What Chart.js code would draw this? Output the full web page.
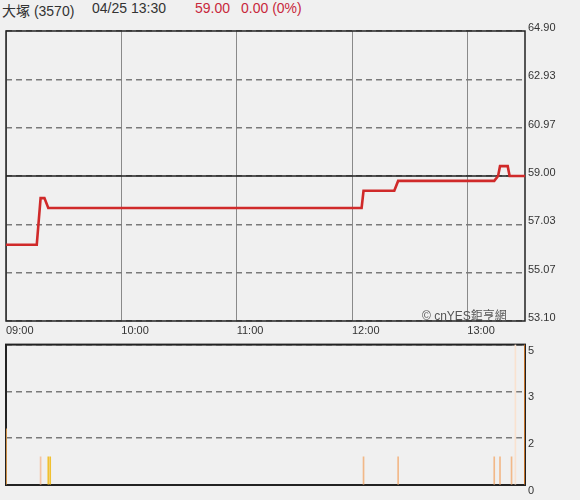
<!DOCTYPE html>
<html>
<head>
<meta charset="utf-8">
<script src="https://cdn.jsdelivr.net/npm/chart.js@4/dist/chart.umd.min.js"></script>
<style>
  body { margin: 0; background: #f0f0f0; width: 580px; height: 500px; overflow: hidden;
         font-family: "Liberation Sans", "Noto Sans CJK TC", sans-serif; }
  .hd { position: absolute; top: 0px; font-size: 14px; color: #333; white-space: pre; }
  .red { color: #c8283c; }
  #mark { position: absolute; left: 422px; top: 306px; font-size: 12px; color: #555; }
  canvas { position: absolute; left: 0; }
</style>
</head>
<body>
<div class="hd" style="left:2px">大塚 (3570)</div>
<div class="hd" style="left:92px">04/25 13:30</div>
<div class="hd red" style="left:195px">59.00</div>
<div class="hd red" style="left:241px">0.00 (0%)</div>
<canvas id="price" width="580" height="320" style="top:20px"></canvas>
<canvas id="vol" width="580" height="165" style="top:335px"></canvas>
<div id="mark">© cnYES鉅亨網</div>
<script>
document.addEventListener("DOMContentLoaded", function () {

    // 價格 (分時)
    const priceTimes = ["09:00","09:16","09:18","09:20","09:22","12:05","12:06","12:22","12:24",
                        "13:14","13:16","13:17","13:21","13:22","13:30"];
    const prices     = [56.2, 56.2, 58.1, 58.1, 57.7, 57.7, 58.4, 58.4, 58.8,
                        58.8, 59.0, 59.4, 59.4, 59.0, 59.0];
    const prevClose = 59.00;

    // 成交量
    const volTimes = ["09:00","09:18","09:22","09:23","12:06","12:24","13:14","13:17","13:23","13:25","13:30"];
    const vols     = [2, 1, 1, 1, 1, 1, 1, 1, 1, 5, 5];
    const volColors = ["#f2a850","#f4c4a4","#f0c030","#f0c030","#f2b888","#f2b888",
                       "#f2b888","#f2b888","#f2b888","#f9e2d0","#e8852c"];

    const hourTicks  = ["09:00","10:00","11:00","12:00","13:00"];
    const priceTicks = [53.10, 55.07, 57.03, 59.00, 60.97, 62.93, 64.90];
    const volMax = 5;
    const volTicks = [0, volMax / 3, volMax * 2 / 3, volMax];

    const toMin = t => { const p = t.split(":").map(Number); return (p[0] - 9) * 60 + p[1]; };
    const fmt = v => String(9 + Math.floor(v / 60)).padStart(2, "0") + ":" + String(v % 60).padStart(2, "0");
    const endMin = toMin("13:30");

    const frame = {
        id: "frame",
        beforeDatasetsDraw(chart) {
            const { ctx, chartArea: a } = chart;
            ctx.save();
            ctx.strokeStyle = "#222";
            ctx.lineWidth = chart.canvas.id === "vol" ? 2 : 1.5;
            ctx.strokeRect(a.left, a.top, a.right - a.left, a.bottom - a.top);
            ctx.restore();
        }
    };

    const font = { family: "'Liberation Sans', sans-serif", size: 11 };

    new Chart(document.getElementById("price"), {
        type: "line",
        data: {
            datasets: [
                {
                    data: priceTimes.map((t, i) => ({ x: toMin(t), y: prices[i] })),
                    borderColor: "#d02a2a",
                    borderWidth: 2.6,
                    pointRadius: 0,
                    tension: 0
                },
                {
                    data: [{ x: 0, y: prevClose }, { x: endMin, y: prevClose }],
                    borderColor: "#222",
                    borderWidth: 1.5,
                    pointRadius: 0
                }
            ]
        },
        options: {
            responsive: false,
            animation: false,
            layout: { padding: { left: 6, top: 11, right: 0, bottom: 0 } },
            plugins: { legend: { display: false }, tooltip: { enabled: false } },
            scales: {
                x: {
                    type: "linear", min: 0, max: endMin,
                    afterBuildTicks: s => { s.ticks = hourTicks.map(t => ({ value: toMin(t) })); },
                    afterFit: s => { s.height = 19; },
                    grid: { color: "#8a8a8a", drawTicks: false },
                    border: { display: false },
                    ticks: { align: "start", padding: 3, color: "#333", font: font,
                             autoSkip: false, maxRotation: 0, callback: v => fmt(v) }
                },
                y: {
                    position: "right", min: priceTicks[0], max: priceTicks[priceTicks.length - 1],
                    afterBuildTicks: s => { s.ticks = priceTicks.map(v => ({ value: v })); },
                    afterFit: s => { s.width = 55; },
                    grid: { color: "#7a7a7a", lineWidth: 1.5, drawTicks: false },
                    border: { display: false, dash: [6, 4] },
                    ticks: { padding: 3, color: "#333", font: font, labelOffset: -3,
                             callback: v => v.toFixed(2) }
                }
            }
        },
        plugins: [frame]
    });

    new Chart(document.getElementById("vol"), {
        type: "bar",
        data: {
            datasets: [{
                data: volTimes.map((t, i) => ({ x: toMin(t), y: vols[i] })),
                backgroundColor: volColors,
                barThickness: 1
            }]
        },
        options: {
            responsive: false,
            animation: false,
            layout: { padding: { left: 6, top: 7, right: 0, bottom: 15 } },
            plugins: { legend: { display: false }, tooltip: { enabled: false } },
            scales: {
                x: { type: "linear", min: 0, max: endMin, offset: false, display: false },
                y: {
                    position: "right", min: 0, max: volMax,
                    afterBuildTicks: s => { s.ticks = volTicks.map(v => ({ value: v })); },
                    afterFit: s => { s.width = 55; },
                    grid: { color: "#7a7a7a", lineWidth: 1.5, drawTicks: false },
                    border: { display: false, dash: [6, 4] },
                    ticks: { padding: 3, color: "#333", font: font, labelOffset: 6,
                             callback: v => Math.round(v) }
                }
            }
        },
        plugins: [frame]
    });

});
</script>
</body>
</html>
